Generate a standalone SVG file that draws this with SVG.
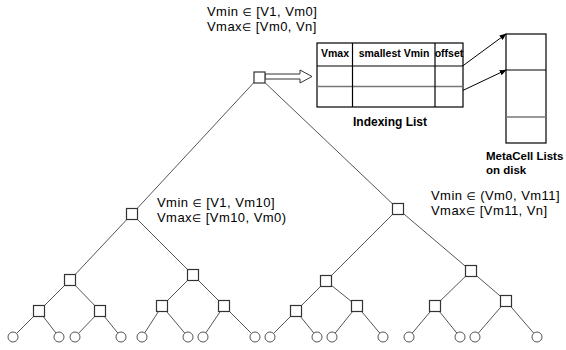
<svg xmlns="http://www.w3.org/2000/svg" width="566" height="350" viewBox="0 0 566 350">
<style>
.bg{fill:#fff}
.e{stroke:#555;stroke-width:1;fill:none}
.n{fill:#fff;stroke:#333;stroke-width:1.2}
.leaf{fill:#fff;stroke:#555;stroke-width:1}
.lbl{font-family:"Liberation Sans","DejaVu Sans",Arial,sans-serif;font-size:13px;letter-spacing:0.45px;fill:#000}
.el{font-size:10.5px}
.hd{font-family:"Liberation Sans",Arial,sans-serif;font-size:10.5px;font-weight:bold;fill:#000}
.cap{font-family:"Liberation Sans",Arial,sans-serif;font-size:12px;font-weight:bold;fill:#000}
.tb{fill:#fff;stroke:#000;stroke-width:1.2}
.ln{stroke:#000;stroke-width:1.2}
.gl{stroke:#777;stroke-width:1.6}
.ar{stroke:#000;stroke-width:1;fill:none;marker-end:url(#ah)}
</style>
<defs>
<marker id="ah" viewBox="0 0 10 10" refX="9" refY="5" markerWidth="7" markerHeight="7" orient="auto" markerUnits="userSpaceOnUse">
<path d="M0,1 L10,5 L0,9 Z" fill="#000"/>
</marker>
</defs>
<rect class="bg" x="0" y="0" width="566" height="350"/>

<g id="connectors">
<line class="e" x1="259" y1="77" x2="132" y2="214"/>
<line class="e" x1="259" y1="77" x2="398" y2="209"/>
<line class="e" x1="132" y1="214" x2="70" y2="280"/>
<line class="e" x1="132" y1="214" x2="193" y2="275"/>
<line class="e" x1="398" y1="209" x2="326" y2="281"/>
<line class="e" x1="398" y1="209" x2="471" y2="271"/>
<line class="e" x1="70" y1="280" x2="39" y2="311"/>
<line class="e" x1="70" y1="280" x2="100" y2="311"/>
<line class="e" x1="193" y1="275" x2="162" y2="306"/>
<line class="e" x1="193" y1="275" x2="224" y2="306"/>
<line class="e" x1="326" y1="281" x2="296" y2="311"/>
<line class="e" x1="326" y1="281" x2="357" y2="306"/>
<line class="e" x1="471" y1="271" x2="435" y2="306"/>
<line class="e" x1="471" y1="271" x2="506" y2="301"/>
<line class="e" x1="39" y1="311" x2="13" y2="337"/>
<line class="e" x1="39" y1="311" x2="59" y2="337"/>
<line class="e" x1="100" y1="311" x2="75" y2="337"/>
<line class="e" x1="100" y1="311" x2="121" y2="337"/>
<line class="e" x1="162" y1="306" x2="142" y2="337"/>
<line class="e" x1="162" y1="306" x2="188" y2="337"/>
<line class="e" x1="224" y1="306" x2="203" y2="337"/>
<line class="e" x1="224" y1="306" x2="255" y2="337"/>
<line class="e" x1="296" y1="311" x2="270" y2="337"/>
<line class="e" x1="296" y1="311" x2="317" y2="337"/>
<line class="e" x1="357" y1="306" x2="332" y2="337"/>
<line class="e" x1="357" y1="306" x2="383" y2="337"/>
<line class="e" x1="435" y1="306" x2="409" y2="337"/>
<line class="e" x1="435" y1="306" x2="460" y2="337"/>
<line class="e" x1="506" y1="301" x2="475" y2="337"/>
<line class="e" x1="506" y1="301" x2="537" y2="337"/>
<polygon points="265,74 300,74 300,70 312,76.5 300,83 300,79 265,79" fill="#fff" stroke="#333" stroke-width="1"/>
<line class="ar" x1="449" y1="76" x2="506" y2="34"/>
<line class="ar" x1="449" y1="97" x2="506" y2="70"/>
</g>

<g id="root"><rect class="n" x="254" y="72" width="11" height="11"/></g>
<g id="n-l"><rect class="n" x="126.5" y="208.5" width="11" height="11"/></g>
<g id="n-r"><rect class="n" x="392.5" y="203.5" width="11" height="11"/></g>
<g id="n-ll"><rect class="n" x="64.5" y="274.5" width="11" height="11"/></g>
<g id="n-lr"><rect class="n" x="187.5" y="269.5" width="11" height="11"/></g>
<g id="n-rl"><rect class="n" x="320.5" y="275.5" width="11" height="11"/></g>
<g id="n-rr"><rect class="n" x="465.5" y="265.5" width="11" height="11"/></g>
<g id="n-lll"><rect class="n" x="33.5" y="305.5" width="11" height="11"/></g>
<g id="n-llr"><rect class="n" x="94.5" y="305.5" width="11" height="11"/></g>
<g id="n-lrl"><rect class="n" x="156.5" y="300.5" width="11" height="11"/></g>
<g id="n-lrr"><rect class="n" x="218.5" y="300.5" width="11" height="11"/></g>
<g id="n-rll"><rect class="n" x="290.5" y="305.5" width="11" height="11"/></g>
<g id="n-rlr"><rect class="n" x="351.5" y="300.5" width="11" height="11"/></g>
<g id="n-rrl"><rect class="n" x="429.5" y="300.5" width="11" height="11"/></g>
<g id="n-rrr"><rect class="n" x="500.5" y="295.5" width="11" height="11"/></g>

<g id="leaves">
<g id="leaf1"><circle class="leaf" cx="13" cy="337" r="5"/></g>
<g id="leaf2"><circle class="leaf" cx="59" cy="337" r="5"/></g>
<g id="leaf3"><circle class="leaf" cx="75" cy="337" r="5"/></g>
<g id="leaf4"><circle class="leaf" cx="121" cy="337" r="5"/></g>
<g id="leaf5"><circle class="leaf" cx="142" cy="337" r="5"/></g>
<g id="leaf6"><circle class="leaf" cx="188" cy="337" r="5"/></g>
<g id="leaf7"><circle class="leaf" cx="203" cy="337" r="5"/></g>
<g id="leaf8"><circle class="leaf" cx="255" cy="337" r="5"/></g>
<g id="leaf9"><circle class="leaf" cx="270" cy="337" r="5"/></g>
<g id="leaf10"><circle class="leaf" cx="317" cy="337" r="5"/></g>
<g id="leaf11"><circle class="leaf" cx="332" cy="337" r="5"/></g>
<g id="leaf12"><circle class="leaf" cx="383" cy="337" r="5"/></g>
<g id="leaf13"><circle class="leaf" cx="409" cy="337" r="5"/></g>
<g id="leaf14"><circle class="leaf" cx="460" cy="337" r="5"/></g>
<g id="leaf15"><circle class="leaf" cx="475" cy="337" r="5"/></g>
<g id="leaf16"><circle class="leaf" cx="537" cy="337" r="5"/></g>
</g>

<g id="label-root">
<text class="lbl" x="207" y="16">Vmin <tspan class="el">∈</tspan> [V1, Vm0]</text>
<text class="lbl" x="207" y="31">Vmax<tspan class="el">∈</tspan> [Vm0, Vn]</text>
</g>
<g id="label-left">
<text class="lbl" x="157" y="207">Vmin <tspan class="el">∈</tspan> [V1, Vm10]</text>
<text class="lbl" x="157" y="222">Vmax<tspan class="el">∈</tspan> [Vm10, Vm0)</text>
</g>
<g id="label-right">
<text class="lbl" x="431" y="200">Vmin <tspan class="el">∈</tspan> (Vm0, Vm11]</text>
<text class="lbl" x="431" y="215">Vmax<tspan class="el">∈</tspan> [Vm11, Vn]</text>
</g>

<g id="indexing-list">
<rect class="tb" x="317" y="43" width="146" height="64"/>
<line class="ln" x1="317" y1="66" x2="463" y2="66"/>
<line class="gl" x1="317" y1="86.5" x2="463" y2="86.5"/>
<line class="ln" x1="352.5" y1="43" x2="352.5" y2="107"/>
<line class="ln" x1="435" y1="43" x2="435" y2="107"/>
<text class="hd" x="335" y="57" text-anchor="middle">Vmax</text>
<text class="hd" x="394" y="57" text-anchor="middle">smallest Vmin</text>
<text class="hd" x="449" y="57" text-anchor="middle">offset</text>
<text class="cap" x="390" y="126" text-anchor="middle">Indexing List</text>
</g>

<g id="metacell-lists">
<rect class="tb" x="506" y="34" width="40" height="109"/>
<line class="ln" x1="506" y1="70" x2="546" y2="70"/>
<line class="gl" x1="506" y1="117" x2="546" y2="117"/>
<text class="cap" x="486" y="160" style="font-size:11.5px">MetaCell Lists</text>
<text class="cap" x="486" y="174" style="font-size:11.5px">on disk</text>
</g>
</svg>
